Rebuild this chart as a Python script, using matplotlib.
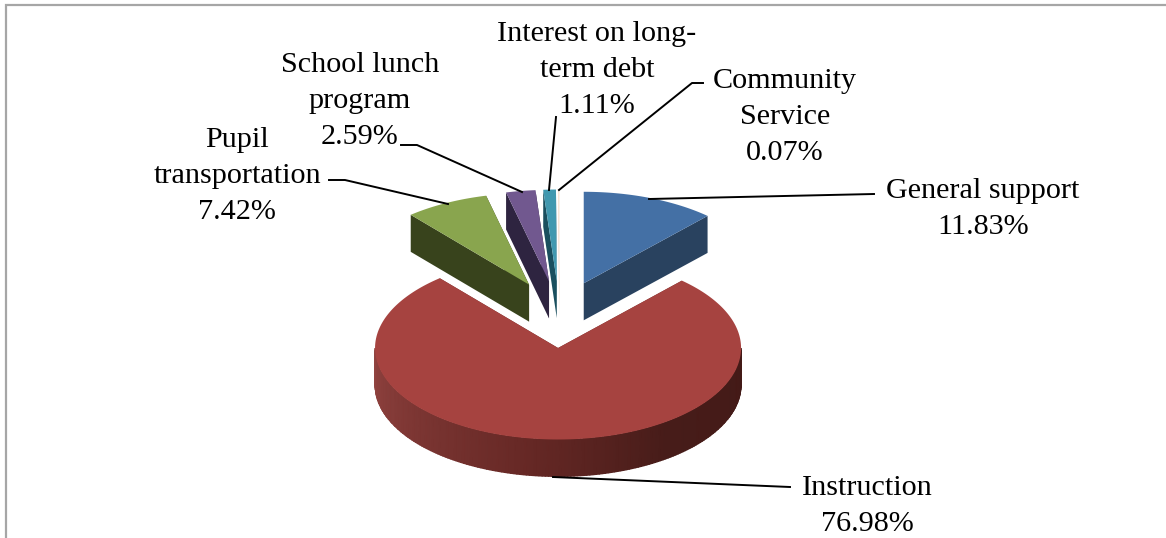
import numpy as np
import matplotlib
matplotlib.use('Agg')
import matplotlib.pyplot as plt
from matplotlib.colors import LinearSegmentedColormap

# Slices, in chart order, clockwise from 12 o'clock
categories = ['General support', 'Instruction', 'Pupil\ntransportation', 'School lunch\nprogram',
              'Interest on long-\nterm debt', 'Community\nService']
shares = [11.83, 76.98, 7.42, 2.59, 1.11, 0.07]
top_colors = ['#4470A5', '#A64340', '#89A54E', '#71588F', '#4198AF', '#F3CFB4']
side_colors = ['#29425F', '#6A2A27', '#38431C', '#2E2440', '#1A4F5E', '#E8C4A8']

# Label centres and leader lines, in pixels
label_pos = [(983, 209), (867, 506), (237, 176), (360, 101), (597, 70), (785, 117)]
leaders = [[(649, 199), (874, 194)],
           [(553, 477), (790, 487)],
           [(448, 204), (345, 180), (329, 180)],
           [(522, 192), (417, 145), (401, 145)],
           [(549, 190), (556, 117)],
           [(559, 190), (692, 83), (703, 83)]]

plt.rcParams['font.family'] = ['Liberation Serif', 'DejaVu Serif']

CENTER = (559.4, 314.5)
RX, RY = 183, 91.5
EXPLODE = 67
DEPTH = 37

wall_cmap = LinearSegmentedColormap.from_list(
    'wall', [(0, '#431A17'), (0.3, '#471C19'), (0.55, '#662825'), (1, '#914340')])


def point(center, theta, r=1.0):
    # theta in degrees, clockwise from the top of the ellipse
    t = np.radians(theta)
    return center[0] + r * RX * np.sin(t), center[1] - r * RY * np.cos(t)


def draw_slice(ax, start, end, top, side, zorder):
    mid = (start + end) / 2
    center = point(CENTER, mid, EXPLODE / RX)
    center = (center[0], CENTER[1] - EXPLODE * 0.5 * np.cos(np.radians(mid)))

    thetas = np.linspace(start, end, max(int(end - start) * 2, 4))
    xs, ys = point(center, thetas)
    xs = np.concatenate([[center[0]], xs])
    ys = np.concatenate([[center[1]], ys])

    # cut faces
    for theta in (start, end):
        ex, ey = point(center, theta)
        ax.fill([center[0], ex, ex, center[0]],
                [center[1], ey, ey + DEPTH, center[1] + DEPTH],
                color=side, lw=0, zorder=zorder)

    # outer wall of the part facing the viewer
    lo, hi = max(start, 90), min(end, 270)
    if hi > lo:
        steps = np.linspace(lo, hi, 181)
        wx, wy = point(center, steps)
        X = np.vstack([wx, wx])
        Y = np.vstack([wy, wy + DEPTH])
        C = np.vstack([steps, steps])
        ax.pcolormesh(X, Y, (C - 90) / 180, shading='gouraud', cmap=wall_cmap,
                      vmin=0, vmax=1, zorder=zorder)

    ax.fill(xs, ys, color=top, lw=0, zorder=zorder + 0.5)


fig = plt.figure(figsize=(11.66, 5.38), dpi=100)
ax = fig.add_axes([0, 0, 1, 1])
ax.set_xlim(0, 1166)
ax.set_ylim(538, 0)
ax.axis('off')

edges = np.concatenate([[0], np.cumsum(shares)]) / sum(shares) * 360

# back slices first, the big front one last
order = [0, 2, 3, 4, 5, 1]
for z, i in enumerate(order):
    draw_slice(ax, edges[i], edges[i + 1], top_colors[i], side_colors[i], z + 2)

# chart frame, cut off at the bottom of the picture
ax.plot([6, 6, 1166], [538, 5, 5], color='#A6A6A6', lw=1.6, zorder=1, solid_joinstyle='miter')

for cat, share, pos, line in zip(categories, shares, label_pos, leaders):
    ax.plot(*zip(*line), color='black', lw=1.4, zorder=20)
    ax.text(pos[0], pos[1], f'{cat}\n{share:.2f}%', ha='center', va='center',
            fontsize=21.7, linespacing=1.52, color='black', zorder=21)

fig.savefig('out.png', dpi=100)
